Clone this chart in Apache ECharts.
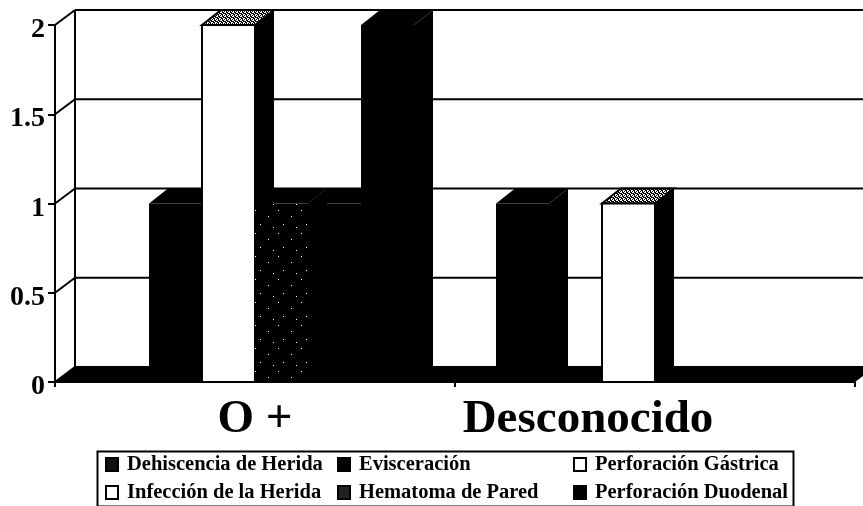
<!DOCTYPE html>
<html><head><meta charset="utf-8">
<style>html,body{margin:0;padding:0;background:#fff}#c{width:863px;height:506px}</style>
<script src="https://cdn.jsdelivr.net/npm/echarts@6/dist/echarts.min.js"></script>
</head><body><div id="c"></div>
<script>
const categories = ['O +', 'Desconocido'];
const yTicks = [0, 0.5, 1, 1.5, 2];
const dehiscencia = [0, 1];
const evisceracion = [1, 0];
const perfGastrica = [2, 1];
const hematoma = [1, 0];
const infeccion = [1, 0];
const perfDuodenal = [2, 0];

const FONT = '"Liberation Serif","Times New Roman",serif';
const DX = 20, DY = -15;      // wall depth
const BDX = 19, BDY = -15;    // bar depth
const GROUP_OFFSET = 41 / 400, BAR_W = 53 / 400;

function pattern(size, dots, bg, fg) {
  const c = document.createElement('canvas');
  c.width = c.height = size;
  const g = c.getContext('2d');
  g.fillStyle = bg; g.fillRect(0, 0, size, size);
  g.fillStyle = fg;
  dots.forEach(d => g.fillRect(d[0], d[1], 1, 1));
  return { image: c, repeat: 'repeat' };
}
const speck = pattern(23, [[2,3],[15,9],[7,17],[20,20]], '#000', '#fff');
const stipple = pattern(4, [[0,0],[1,0],[2,1],[3,2],[0,2],[1,3],[3,3]], '#000', '#fff');

const seriesDefs = [
  { name: 'Dehiscencia de Herida', data: dehiscencia, legend: '#111', front: '#000', top: '#000' },
  { name: 'Evisceración', data: evisceracion, legend: '#000', front: '#000', top: '#000' },
  { name: 'Perforación Gástrica', data: perfGastrica, legend: '#fff', front: '#fff', top: stipple, outline: true },
  { name: 'Hematoma de Pared', data: hematoma, legend: '#222', front: speck, top: '#000' },
  { name: 'Infección de la Herida', data: infeccion, legend: '#fff', front: '#000', top: '#000' },
  { name: 'Perforación Duodenal', data: perfDuodenal, legend: '#000', front: '#000', top: '#000' }
];

function poly(points, fill, stroke) {
  return { type: 'polygon', shape: { points }, silent: true,
    style: { fill, stroke: stroke || null, lineWidth: stroke ? 2 : 0 } };
}
function line(x1, y1, x2, y2) {
  return { type: 'line', shape: { x1, y1, x2, y2 }, silent: true,
    style: { stroke: '#000', lineWidth: 2, fill: null } };
}

function renderWall(params, api) {
  const cs = params.coordSys;
  const y = api.coord([0, api.value(0)])[1];
  const x0 = cs.x, x1 = cs.x + cs.width;
  const children = [
    line(x0, y, x0 + DX, y + DY),
    line(x0 + DX, y + DY, x1 + DX, y + DY)
  ];
  if (params.dataIndex === 0) {
    children.unshift(line(x0 + DX, cs.y + DY, x0 + DX, cs.y + cs.height + DY));
    children.push(poly([[x0, y], [x1, y], [x1 + DX, y + DY], [x0 + DX, y + DY]], '#000'));
  }
  return { type: 'group', children };
}

function barRenderer(pos, def) {
  return function (params, api) {
    const cat = api.value(0), val = api.value(1);
    const band = api.size([1, 0])[0];
    const left = api.coord([cat, 0])[0] - band / 2 + band * (GROUP_OFFSET + BAR_W * pos);
    const w = band * BAR_W;
    const y0 = api.coord([cat, 0])[1], yv = api.coord([cat, val])[1];
    const r = left + w;
    const children = [
      poly([[r, y0], [r + BDX, y0 + BDY], [r + BDX, yv + BDY], [r, yv]], '#000'),
      poly([[left, yv], [left + BDX, yv + BDY], [r + BDX, yv + BDY], [r, yv]], def.top, def.outline ? '#000' : null)
    ];
    if (val > 0) {
      children.push(poly([[left, y0], [r, y0], [r, yv], [left, yv]], def.front, def.outline ? '#000' : null));
    }
    return { type: 'group', children };
  };
}

const legendBase = {
  orient: 'vertical', selectedMode: false, itemWidth: 12, itemHeight: 13, itemGap: 7,
  icon: 'rect', height: 70,
  textStyle: { fontFamily: FONT, fontWeight: 'bold', fontSize: 20.5, color: '#000', padding: [0, 0, 0, 4] }
};

const chart = echarts.init(document.getElementById('c'), null, { renderer: 'canvas' });
chart.setOption({
  animation: false,
  backgroundColor: '#fff',
  grid: { left: 55, right: 8, top: 25, bottom: 124, containLabel: false },
  legend: [
    Object.assign({}, legendBase, { left: 100, top: 449, data: [seriesDefs[0].name, seriesDefs[4].name] }),
    Object.assign({}, legendBase, { left: 332, top: 449, data: [seriesDefs[1].name, seriesDefs[3].name] }),
    Object.assign({}, legendBase, { left: 568, top: 449, data: [seriesDefs[2].name, seriesDefs[5].name] })
  ],
  xAxis: {
    type: 'category',
    data: [
      { value: categories[0] },
      { value: categories[1], textStyle: { padding: [0, 134, 0, 0] } }
    ],
    axisLine: { lineStyle: { color: '#000', width: 2 } },
    axisTick: { show: true, length: 5, alignWithLabel: false, lineStyle: { color: '#000', width: 2 } },
    axisLabel: { margin: 14, fontFamily: FONT, fontWeight: 'bold', fontSize: 47, color: '#000', interval: 0 },
    splitLine: { show: false }
  },
  yAxis: {
    type: 'value', min: 0, max: 2, interval: 0.5,
    axisLine: { show: true, lineStyle: { color: '#000', width: 2 } },
    axisTick: { show: true, length: 7, lineStyle: { color: '#000', width: 2 } },
    axisLabel: { margin: 10, verticalAlign: 'top', lineHeight: 10, fontFamily: FONT, fontWeight: 'bold', fontSize: 28, color: '#000' },
    splitLine: { show: false }
  },
  graphic: [{
    type: 'rect', left: 95, top: 449, shape: { width: 696, height: 55 }, silent: true,
    style: { fill: null, stroke: '#000', lineWidth: 2 }
  }],
  series: [
    { type: 'custom', name: 'pared', clip: false, silent: true, z: 1,
      coordinateSystem: 'cartesian2d', renderItem: renderWall,
      encode: { y: 0 }, data: yTicks.map(v => [v]) }
  ].concat(seriesDefs.map((d, i) => ({
    type: 'custom', name: d.name, clip: false, silent: true, z: 2,
    coordinateSystem: 'cartesian2d',
    renderItem: barRenderer(i, d),
    itemStyle: { color: d.legend, borderColor: '#000', borderWidth: 1 },
    encode: { x: 0, y: 1 },
    data: d.data.map((v, c) => [c, v])
  })))
});
</script></body></html>
